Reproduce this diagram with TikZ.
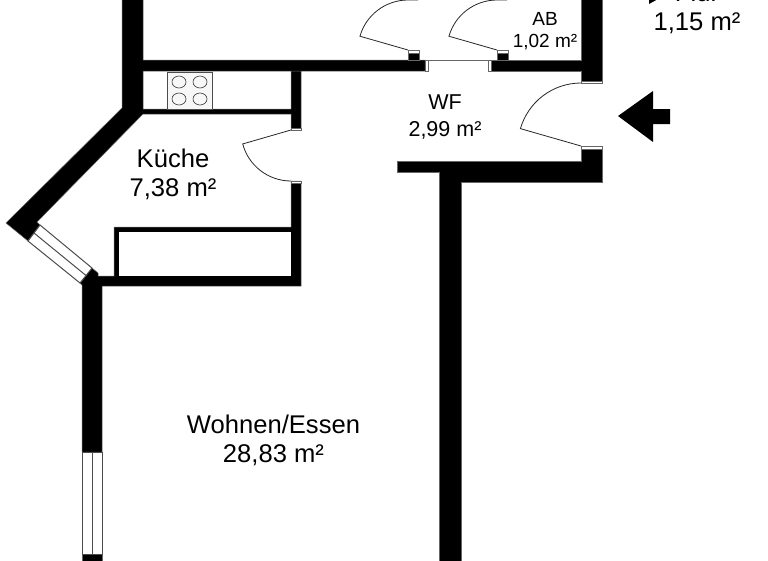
\documentclass[tikz,border=0pt]{standalone}
\usepackage{fontspec}
\setmainfont{Liberation Sans}
\tikzstyle{wall}=[fill=black, draw=black!60, line width=0.5pt]
\tikzstyle{doorcap}=[fill=white, draw=black!60, line width=0.6pt]
\tikzstyle{pane}=[fill=white, draw=black!70, line width=1pt]
\tikzstyle{door}=[draw=black!85, line width=0.8pt]
\tikzstyle{room}=[align=center, font=\fontsize{25.6}{29}\selectfont, inner sep=0pt]
\tikzstyle{roomsmall}=[align=center, font=\fontsize{21.5}{27}\selectfont, inner sep=0pt]
\tikzstyle{roomtiny}=[align=center, font=\fontsize{19}{22}\selectfont, inner sep=0pt]
\begin{document}
\begin{tikzpicture}[x=1pt, y=-1pt]
                    \useasboundingbox (0,0) rectangle (768,560);
                    \clip (0,0) rectangle (768,560);
                    % walls
                    \fill[wall] (122,-2)--(143,-2)--(143,60)--(425,60)--(425,71)--(143,71)--(143,109)--(291,109)--(291,71)--(301,71)--(301,130)--(291,130)--(291,114)--(143,114)--(37,222)--(40,225)--(28,241)--(6,223)--(122,108)--cycle;
                    \fill[wall] (488,60)--(581,60)--(581,-2)--(602,-2)--(602,83)--(581,83)--(581,71)--(488,71)--cycle;
                    \fill[wall] (581,146)--(602,146)--(602,182)--(461,182)--(461,562)--(439,562)--(439,172)--(397,172)--(397,161)--(581,161)--cycle;
                    \fill[wall] (291,181)--(301,181)--(301,286)--(102,286)--(102,452)--(82,452)--(82,285)--(80,283)--(92,268)--(98,273)--(98,276)--(114,276)--(114,227)--(291,227)--cycle;
                    \fill[white] (119,232) rectangle (291,276);
                    \fill[wall] (82,554) rectangle (102,562);
                    \fill[wall] (408,50) rectangle (419,60);
                    \fill[wall] (497,50) rectangle (508,60);
                    % caps at the door openings
                    \draw[doorcap] (581,81) rectangle (602,83);
                    \draw[doorcap] (581,146) rectangle (602,149);
                    \draw[doorcap] (291,128) rectangle (301,130);
                    \draw[doorcap] (291,181) rectangle (301,183);
                    \draw[doorcap] (408,50) rectangle (419,53);
                    \draw[doorcap] (497,50) rectangle (508,53);
                    \draw[doorcap] (425,60) rectangle (428,71);
                    \draw[doorcap] (488,60) rectangle (491,71);
                    \draw[black!60] (428,60)--(488,60);
                    % windows
                    \draw[pane] (82,452) rectangle (102,554);
                    \draw[pane] (92,452)--(92,554);
                    \draw[pane] (28,241)--(80,283)--(92,268)--(40,225)--cycle;
                    \draw[pane] (34,233)--(86,275.5);
                    % doors
                    \draw[door] (581,83) arc[start angle=-90, end angle=-164, radius=63]--(581,146);
                    \draw[door] (291,181) arc[start angle=90, end angle=165, radius=50]--(291,130);
                    \draw[door] (418,0)--(408,0) arc[start angle=-90, end angle=-164, radius=50]--(408,50);
                    \draw[door] (507,0)--(497,0) arc[start angle=-90, end angle=-164, radius=50]--(497,50);
                    % cooktop
                    \draw[fill=black!3, draw=black!70, line width=0.7pt] (167,72) rectangle (212,109);
                    \foreach \hx in {179,200}
                        \foreach \hy in {82,99}
                            \draw[black!80, line width=0.6pt] (\hx,\hy) ellipse (7 and 6);
                    % entry arrow
                    \fill (618,116)--(653,91)--(653,109)--(670,109)--(670,124)--(653,124)--(653,142)--cycle;
                    % labels
                    \node[room] (wohnen) at (273.5,440) {Wohnen/Essen\\28,83 m²};
                    \node[room] (kueche) at (173,174) {Küche\\7,38 m²};
                    \node[roomsmall] (wf) at (445,117) {WF\\2,99 m²};
                    \node[roomtiny] (ab) at (545,31) {AB\\1,02 m²};
                    \node[room] (flur) at (697,8) {Flur\\1,15 m²};
                    \fill (649,-1)--(658,-1)--(649,4)--cycle;
                \end{tikzpicture}
\end{document}
